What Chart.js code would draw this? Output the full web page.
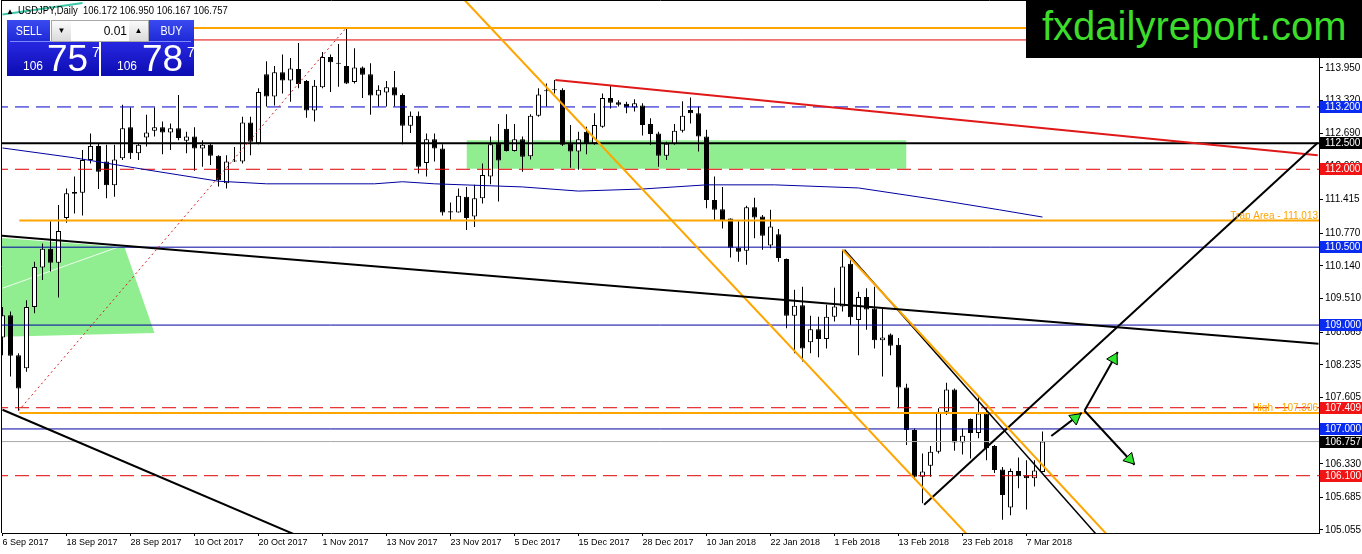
<!DOCTYPE html>
<html>
<head>
<meta charset="utf-8">
<title>USDJPY Daily</title>
<script src="https://cdn.jsdelivr.net/npm/chart.js@4.4.1/dist/chart.umd.min.js"></script>
<style>
  html, body { margin: 0; padding: 0; background: #fff; overflow: hidden; }
  #wrap { position: relative; width: 1362px; height: 554px; font-family: 'Liberation Sans', Arial, sans-serif; }
  #chart { position: absolute; left: 0; top: 0; }
  .abs { position: absolute; white-space: nowrap; }
  .title { left: 6px; top: 5px; font-size: 11px; line-height: 11px; color: #000; }
  .title .tri { font-size: 8px; margin-right: 4px; }
  .title .txt { display: inline-block; transform: scaleX(0.86); transform-origin: left center; }
  .btn { top: 20px; height: 21px; color: #fff; font-size: 13px; line-height: 21px; text-align: center;
         background: linear-gradient(#3a4af0, #1e2ad6); }
  .btn span { display: inline-block; transform: scaleX(0.82); }
  .spin { left: 51px; top: 20px; width: 96px; height: 20px; background: #fff; border: 1px solid #a8a8a8; }
  .spin .arr { position: absolute; top: 0; width: 19px; height: 20px; font-size: 8px; line-height: 20px; text-align: center;
               background: linear-gradient(#fbfbfb, #dadada); color: #000; }
  .spin .val { position: absolute; left: 22px; width: 53px; text-align: right; font-size: 12px; line-height: 20px; color: #000; }
  .big { top: 41px; height: 35px; background: linear-gradient(#2828e2, #0c0cb2); }
  .big .hl { position: absolute; left: 3px; right: 3px; top: 0; height: 1px; background: #8088ff; }
  .num { color: #fff; line-height: 1; }
  .logo { left: 1026px; top: 0; width: 336px; height: 58px; background: #000; }
  .logo span { position: absolute; left: 16px; top: 6px; font-size: 40px; line-height: 40px; color: #3ddc2a; }
</style>
</head>
<body>
<div id="wrap">
  <canvas id="chart" width="1362" height="554"></canvas>

  <div class="abs title"><span class="tri">&#9650;</span><span class="txt">USDJPY,Daily&nbsp; 106.172 106.950 106.167 106.757</span></div>

  <div class="abs big" style="left:7px;width:92px;"><div class="hl"></div></div>
  <div class="abs big" style="left:101px;width:93px;"><div class="hl"></div></div>
  <div class="abs btn" style="left:7px;width:43px;"><span>SELL</span></div>
  <div class="abs btn" style="left:148px;width:46px;"><span>BUY</span></div>
  <div class="abs spin">
    <div class="arr" style="left:0;">&#9660;</div>
    <div class="val">0.01</div>
    <div class="arr" style="right:0;">&#9650;</div>
  </div>
  <div class="abs num" style="left:23px;top:60px;font-size:12px;">106</div>
  <div class="abs num" style="left:47px;top:40px;font-size:37px;">75</div>
  <div class="abs num" style="left:92px;top:45px;font-size:14px;">7</div>
  <div class="abs num" style="left:117px;top:60px;font-size:12px;">106</div>
  <div class="abs num" style="left:142px;top:40px;font-size:37px;">78</div>
  <div class="abs num" style="left:187px;top:45px;font-size:14px;">7</div>

  <div class="abs logo"><span>fxdailyreport.com</span></div>
</div>

<script>
// Daily candles, one per trading day from 6 Sep 2017 to 9 Mar 2018
const opens = [
  108.76, 109.19, 108.42, 108.17, 109.35, 110.11, 110.47, 110.20, 111.06, 111.56,
  111.55, 112.18, 112.45, 112.15, 111.69, 112.21, 112.81, 112.31, 112.61, 112.74,
  112.81, 112.71, 112.79, 112.55, 112.63, 112.40, 112.47, 112.26, 111.73, 112.15,
  112.15, 112.90, 112.50, 113.83, 113.40, 113.87, 113.71, 113.93, 113.70, 113.13,
  113.58, 114.16, 114.05, 113.99, 113.68, 113.96, 113.83, 113.42, 113.48, 113.58,
  113.43, 112.84, 113.03, 112.12, 112.58, 112.40, 111.17, 111.17, 111.47, 111.09,
  111.44, 111.86, 112.50, 112.78, 112.35, 112.58, 112.25, 113.03, 113.50, 113.52,
  113.53, 112.50, 112.34, 112.72, 112.50, 112.82, 113.37, 113.29, 113.26, 113.19,
  113.23, 112.87, 112.69, 112.26, 112.49, 112.74, 113.14, 113.08, 112.63, 111.41,
  111.23, 111.05, 110.49, 110.43, 111.27, 111.09, 110.53, 110.75, 110.27, 109.18,
  109.38, 108.67, 108.92, 108.73, 109.16, 109.36, 110.18, 109.10, 109.54, 109.32,
  108.71, 108.82, 108.62, 107.80, 106.98, 106.08, 106.29, 106.56, 107.33, 107.76,
  106.74, 107.19, 106.92, 107.30, 106.67, 106.22, 105.49, 106.19, 106.11, 106.05,
  106.172
];
const highs = [
  109.35, 109.26, 108.46, 109.48, 110.22, 110.57, 111.00, 111.31, 111.63, 111.86,
  112.37, 112.69, 112.50, 112.47, 112.47, 113.24, 113.19, 112.50, 113.05, 113.19,
  112.92, 112.88, 113.43, 112.72, 112.81, 112.56, 112.50, 112.27, 112.27, 112.43,
  113.01, 113.01, 113.56, 114.08, 113.99, 114.21, 114.14, 114.43, 113.72, 113.72,
  114.26, 114.21, 114.41, 114.73, 114.33, 113.98, 114.04, 113.62, 113.70, 113.89,
  113.46, 113.11, 113.11, 112.69, 112.69, 112.48, 111.36, 111.63, 111.66, 111.70,
  112.11, 112.63, 112.87, 113.06, 112.87, 112.63, 113.06, 113.56, 113.65, 113.72,
  113.56, 112.85, 112.72, 112.82, 113.08, 113.46, 113.62, 113.33, 113.30, 113.35,
  113.27, 112.98, 112.72, 112.53, 112.87, 113.31, 113.38, 113.21, 112.76, 111.86,
  111.66, 111.05, 111.00, 111.30, 111.45, 111.12, 111.22, 110.85, 110.28, 109.68,
  109.74, 109.18, 109.16, 109.39, 109.72, 110.45, 110.25, 109.64, 109.71, 109.74,
  109.32, 108.84, 108.75, 107.87, 107.01, 106.53, 106.67, 107.40, 107.89, 107.78,
  107.01, 107.20, 107.62, 107.40, 106.69, 106.27, 106.24, 106.45, 106.40, 106.40,
  106.950
];
const lows = [
  108.42, 108.01, 107.35, 108.10, 109.23, 109.87, 110.03, 109.53, 110.97, 111.15,
  111.11, 112.11, 111.62, 111.44, 111.47, 112.18, 112.20, 112.18, 112.44, 112.63,
  112.29, 112.37, 112.56, 112.31, 111.97, 112.05, 112.08, 111.67, 111.63, 112.14,
  112.11, 112.27, 112.48, 113.21, 113.23, 113.46, 113.30, 113.56, 112.99, 112.92,
  113.56, 113.49, 113.59, 113.64, 113.65, 113.37, 113.05, 113.21, 113.21, 113.21,
  112.48, 112.70, 111.92, 111.86, 112.15, 111.11, 111.02, 111.17, 110.83, 110.89,
  111.34, 111.71, 111.38, 112.34, 112.34, 111.95, 112.19, 113.01, 113.21, 113.46,
  112.45, 112.03, 111.99, 112.29, 112.47, 112.80, 113.17, 113.21, 113.08, 113.11,
  112.65, 112.47, 112.05, 112.18, 112.47, 112.71, 112.88, 112.34, 111.25, 111.02,
  110.86, 110.30, 110.22, 110.16, 110.67, 110.45, 110.48, 110.22, 108.94, 108.46,
  108.30, 108.46, 108.38, 108.55, 109.07, 109.26, 109.00, 108.42, 108.91, 108.55,
  108.01, 108.42, 107.40, 106.69, 106.02, 105.57, 106.08, 106.53, 107.27, 106.58,
  106.51, 106.43, 106.82, 106.40, 106.15, 105.25, 105.34, 105.86, 105.45, 105.89,
  106.167
];
const closes = [
  109.19, 108.41, 107.78, 109.35, 110.12, 110.47, 110.20, 110.81, 111.54, 111.53,
  112.18, 112.45, 111.95, 111.69, 112.19, 112.79, 112.31, 112.47, 112.71, 112.81,
  112.71, 112.79, 112.60, 112.63, 112.40, 112.47, 112.26, 111.79, 112.15, 112.17,
  112.90, 112.53, 113.49, 113.40, 113.87, 113.71, 113.94, 113.64, 113.13, 113.61,
  114.16, 114.06, 114.03, 113.65, 113.96, 113.82, 113.42, 113.53, 113.58, 113.42,
  112.84, 113.03, 112.05, 112.58, 112.40, 111.17, 111.19, 111.49, 111.06, 111.44,
  111.89, 112.48, 112.17, 112.35, 112.58, 112.24, 113.03, 113.44, 113.52, 113.54,
  112.47, 112.34, 112.58, 112.50, 112.85, 113.37, 113.28, 113.24, 113.19, 113.27,
  112.85, 112.68, 112.26, 112.49, 112.74, 113.03, 113.08, 112.63, 111.41, 111.22,
  111.02, 110.49, 110.41, 111.27, 111.07, 110.72, 110.90, 110.29, 109.18, 109.37,
  108.55, 108.92, 108.73, 109.16, 109.36, 110.13, 109.15, 109.54, 109.30, 108.71,
  108.76, 108.60, 107.80, 106.98, 106.08, 106.18, 106.56, 107.33, 107.76, 106.74,
  106.87, 106.92, 107.30, 106.63, 106.21, 105.73, 106.19, 106.09, 106.05, 106.20,
  106.757
];

// time axis labels and the bar each one sits on
const dateLabels = ['6 Sep 2017', '18 Sep 2017', '28 Sep 2017', '10 Oct 2017', '20 Oct 2017', '1 Nov 2017',
  '13 Nov 2017', '23 Nov 2017', '5 Dec 2017', '15 Dec 2017', '28 Dec 2017', '10 Jan 2018', '22 Jan 2018',
  '1 Feb 2018', '13 Feb 2018', '23 Feb 2018', '7 Mar 2018'];
const dateBars = [0, 8, 16, 24, 32, 40, 48, 56, 64, 72, 80, 88, 96, 104, 112, 120, 128];

// price axis ticks
const priceTicks = [113.950, 113.320, 112.690, 112.060, 111.415, 110.770, 110.140, 109.510,
  108.865, 108.235, 107.605, 106.975, 106.330, 105.685, 105.055];

// horizontal levels with a price box on the right axis
const levelPrices = [113.200, 112.500, 112.000, 110.500, 109.000, 107.409, 107.000, 106.757, 106.100];

// orange support / resistance lines and their notes
const trapLevel = 111.013;
const highLevel = 107.306;
const topHighLevel = 114.72;
const topRedLevel = 114.49;
const noteTexts = ['Trap Area - 111.013', 'High - 107.306'];
const notePrices = [111.013, 107.306];

// moving average (bar, value)
const maBars = [0, 9, 18, 27, 33, 46.5, 50, 54, 65, 72, 80, 88, 96.5, 107, 117, 124.6, 130];
const maValues = [112.41, 112.22, 111.99, 111.77, 111.72, 111.72, 111.76, 111.72, 111.66, 111.58,
  111.62, 111.70, 111.70, 111.64, 111.41, 111.22, 111.08];

// trend lines: [bar1, price1, bar2, price2]
const redDotted = [2, 107.35, 43, 114.73];
const blackLong = [-0.1, 110.72, 164.5, 108.64];
const blackLowLeft = [0, 107.37, 40, 104.74];
const orangeUpper = [57.75, 115.26, 120.5, 104.98];
const orangeLower = [105, 110.45, 138.1, 104.96];
const blackFalling = [105.25, 110.45, 140, 104.40];
const blackRising = [115.2, 105.54, 164.4, 112.51];
const redFalling = [69.1, 113.72, 164.4, 112.27];
const tealTop = [0, 114.98, 10, 115.20];
const arrowUpSmall = [131.1, 106.865, 134.9, 107.31];
const arrowUp = [135.25, 107.35, 139.4, 108.48];
const arrowDown = [135.25, 107.35, 141.5, 106.31];
const arrowHeadBars = [134.1, 138.9, 140.9];
const arrowHeadPrices = [107.21, 108.35, 106.42];
const arrowHeadAngles = [52, 29, 137];

// shaded zones
const zoneBars = [58, 113];
const zoneTop = 112.56;
const zoneBottom = 112.01;
const wedgeBars = [-1, 15.25, 19, -1];
const wedgePrices = [110.69, 110.50, 108.85, 108.77];
const wedgeStreak = [0, 109.71, 14.6, 110.51];

const X_MIN = -0.0625;
const X_MAX = 164.5625;

const ORANGE = '#FFA500';
const RED = '#E00000';
const BLUE = '#0000A0';

const levelStyles = [
  { color: '#0000C8', width: 1, dash: [14, 7] },
  { color: '#000000', width: 2, dash: [] },
  { color: RED, width: 1, dash: [14, 7] },
  { color: BLUE, width: 1, dash: [] },
  { color: BLUE, width: 1, dash: [] },
  { color: RED, width: 1, dash: [14, 7] },
  { color: BLUE, width: 1, dash: [] },
  { color: '#A8A8A8', width: 1, dash: [] },
  { color: RED, width: 1, dash: [14, 7] }
];
const boxColors = ['#0a2cf0', '#000000', '#f01414', '#0a2cf0', '#0a2cf0', '#f01414', '#0a2cf0', '#000000', '#f01414'];

function seg(coords, color, width, dash, order) {
  return {
    type: 'line',
    data: [{ x: coords[0], y: coords[1] }, { x: coords[2], y: coords[3] }],
    borderColor: color,
    borderWidth: width,
    borderDash: dash || [],
    pointRadius: 0,
    fill: false,
    tension: 0,
    clip: 0,
    order: order
  };
}

const wickData = lows.map((l, i) => ({ x: i, y: [l, highs[i]] }));
const bodyData = opens.map((o, i) => ({ x: i, y: [o, closes[i]] }));
const bodyColors = opens.map((o, i) => closes[i] >= o ? '#ffffff' : '#000000');

const datasets = [];

// background zones
datasets.push({
  type: 'line',
  data: zoneBars.map(b => ({ x: b, y: zoneTop })),
  borderWidth: 0,
  pointRadius: 0,
  backgroundColor: '#90EE90',
  fill: { value: zoneBottom },
  clip: 0,
  order: 10
});
datasets.push({
  type: 'line',
  data: wedgeBars.map((b, i) => ({ x: b, y: wedgePrices[i] })),
  borderWidth: 0,
  pointRadius: 0,
  backgroundColor: '#90EE90',
  fill: 'shape',
  clip: 0,
  order: 10
});
datasets.push(seg(wedgeStreak, 'rgba(255,255,255,0.85)', 1, [], 9));

// candles
datasets.push({
  type: 'bar',
  data: wickData,
  backgroundColor: '#000',
  borderWidth: 0,
  barThickness: 1,
  grouped: false,
  inflateAmount: 0,
  order: 5
});
datasets.push({
  type: 'bar',
  data: bodyData,
  backgroundColor: bodyColors,
  borderColor: '#000',
  borderWidth: 1,
  borderSkipped: false,
  barThickness: 5,
  grouped: false,
  inflateAmount: 0,
  order: 4
});

// moving average
datasets.push({
  type: 'line',
  data: maBars.map((b, i) => ({ x: b, y: maValues[i] })),
  borderColor: BLUE,
  borderWidth: 1,
  pointRadius: 0,
  fill: false,
  tension: 0,
  clip: 0,
  order: 2
});

// horizontal levels
levelPrices.forEach((p, k) => {
  const s = levelStyles[k];
  datasets.push(seg([X_MIN - 1, p, X_MAX + 1, p], s.color, s.width, s.dash, 2));
});
datasets.push(seg([20, topHighLevel, X_MAX + 1, topHighLevel], ORANGE, 2, [], 2));
datasets.push(seg([20, topRedLevel, X_MAX + 1, topRedLevel], RED, 1, [], 2));
datasets.push(seg([2.1, trapLevel, X_MAX + 1, trapLevel], ORANGE, 2, [], 2));
datasets.push(seg([2.1, highLevel, X_MAX + 1, highLevel], ORANGE, 2, [], 2));

// trend lines
datasets.push(seg(redDotted, '#D02020', 1, [2, 3], 1));
datasets.push(seg(blackLong, '#000', 2, [], 1));
datasets.push(seg(blackLowLeft, '#000', 2, [], 1));
datasets.push(seg(orangeUpper, ORANGE, 2, [], 1));
datasets.push(seg(orangeLower, ORANGE, 2, [], 1));
datasets.push(seg(blackFalling, '#000', 1.5, [], 1));
datasets.push(seg(blackRising, '#000', 2, [], 1));
datasets.push(seg(redFalling, '#E01818', 2, [], 1));
datasets.push(seg(tealTop, '#3cc8a8', 2, [], 1));
datasets.push(seg(arrowUpSmall, '#000', 2, [], 1));
datasets.push(seg(arrowUp, '#000', 2, [], 1));
datasets.push(seg(arrowDown, '#000', 2, [], 1));

// arrow heads
datasets.push({
  type: 'line',
  data: arrowHeadBars.map((b, i) => ({ x: b, y: arrowHeadPrices[i] })),
  showLine: false,
  pointStyle: 'triangle',
  pointRadius: 7,
  pointRotation: arrowHeadAngles,
  pointBackgroundColor: '#2ee62e',
  pointBorderColor: '#000',
  pointBorderWidth: 1,
  clip: false,
  order: 0
});

const overlayPlugin = {
  id: 'overlay',
  afterDraw(chart) {
    const { ctx, chartArea, scales } = chart;
    const y = scales.y;
    ctx.save();
    // chart frame (left and top)
    ctx.strokeStyle = '#000';
    ctx.lineWidth = 1;
    ctx.beginPath();
    ctx.moveTo(chartArea.left - 0.5, 0);
    ctx.lineTo(chartArea.left - 0.5, chartArea.bottom);
    ctx.moveTo(chartArea.left, 0.5);
    ctx.lineTo(chartArea.right, 0.5);
    ctx.stroke();

    // notes on the orange lines
    ctx.font = '10px "Liberation Sans", Arial, sans-serif';
    ctx.fillStyle = ORANGE;
    ctx.textAlign = 'right';
    ctx.textBaseline = 'alphabetic';
    noteTexts.forEach((t, k) => {
      ctx.fillText(t, chartArea.right - 1, y.getPixelForValue(notePrices[k]) - 2);
    });

    // price boxes on the right axis
    ctx.textAlign = 'left';
    ctx.textBaseline = 'middle';
    levelPrices.forEach((p, k) => {
      const py = Math.round(y.getPixelForValue(p));
      ctx.fillStyle = boxColors[k];
      ctx.fillRect(chartArea.right + 1, py - 6, chart.width - chartArea.right - 1, 12);
      ctx.fillStyle = '#fff';
      ctx.fillText(p.toFixed(3), chartArea.right + 6, py + 0.5);
    });
    ctx.restore();
  }
};

new Chart(document.getElementById('chart'), {
  type: 'bar',
  data: { datasets: datasets },
  options: {
    responsive: false,
    animation: false,
    devicePixelRatio: 1,
    events: [],
    layout: { autoPadding: false, padding: { left: 2, top: 0, right: 0, bottom: 0 } },
    plugins: { legend: { display: false }, tooltip: { enabled: false } },
    scales: {
      x: {
        type: 'linear',
        offset: false,
        min: X_MIN,
        max: X_MAX,
        afterBuildTicks: s => { s.ticks = dateBars.map(v => ({ value: v })); },
        afterFit: s => { s.height = 21; s.paddingLeft = 0; s.paddingRight = 0; },
        grid: { offset: false, drawOnChartArea: false, drawTicks: true, tickLength: 3, color: '#000' },
        border: { display: true, color: '#000', width: 1 },
        ticks: {
          autoSkip: false,
          maxRotation: 0,
          minRotation: 0,
          align: 'start',
          padding: 1,
          color: '#000',
          font: { family: '"Liberation Sans", Arial, sans-serif', size: 9 },
          callback: (v, i) => dateLabels[i]
        }
      },
      y: {
        type: 'linear',
        position: 'right',
        min: 104.997,
        max: 115.259,
        afterBuildTicks: s => { s.ticks = priceTicks.map(v => ({ value: v })); },
        afterFit: s => { s.width = 43; s.paddingTop = 0; s.paddingBottom = 0; },
        grid: { drawOnChartArea: false, drawTicks: true, tickLength: 4, color: '#000' },
        border: { display: true, color: '#000', width: 1 },
        ticks: {
          padding: 2,
          color: '#000',
          font: { family: '"Liberation Sans", Arial, sans-serif', size: 10 },
          callback: v => v.toFixed(3)
        }
      }
    }
  },
  plugins: [overlayPlugin]
});
</script>
</body>
</html>
